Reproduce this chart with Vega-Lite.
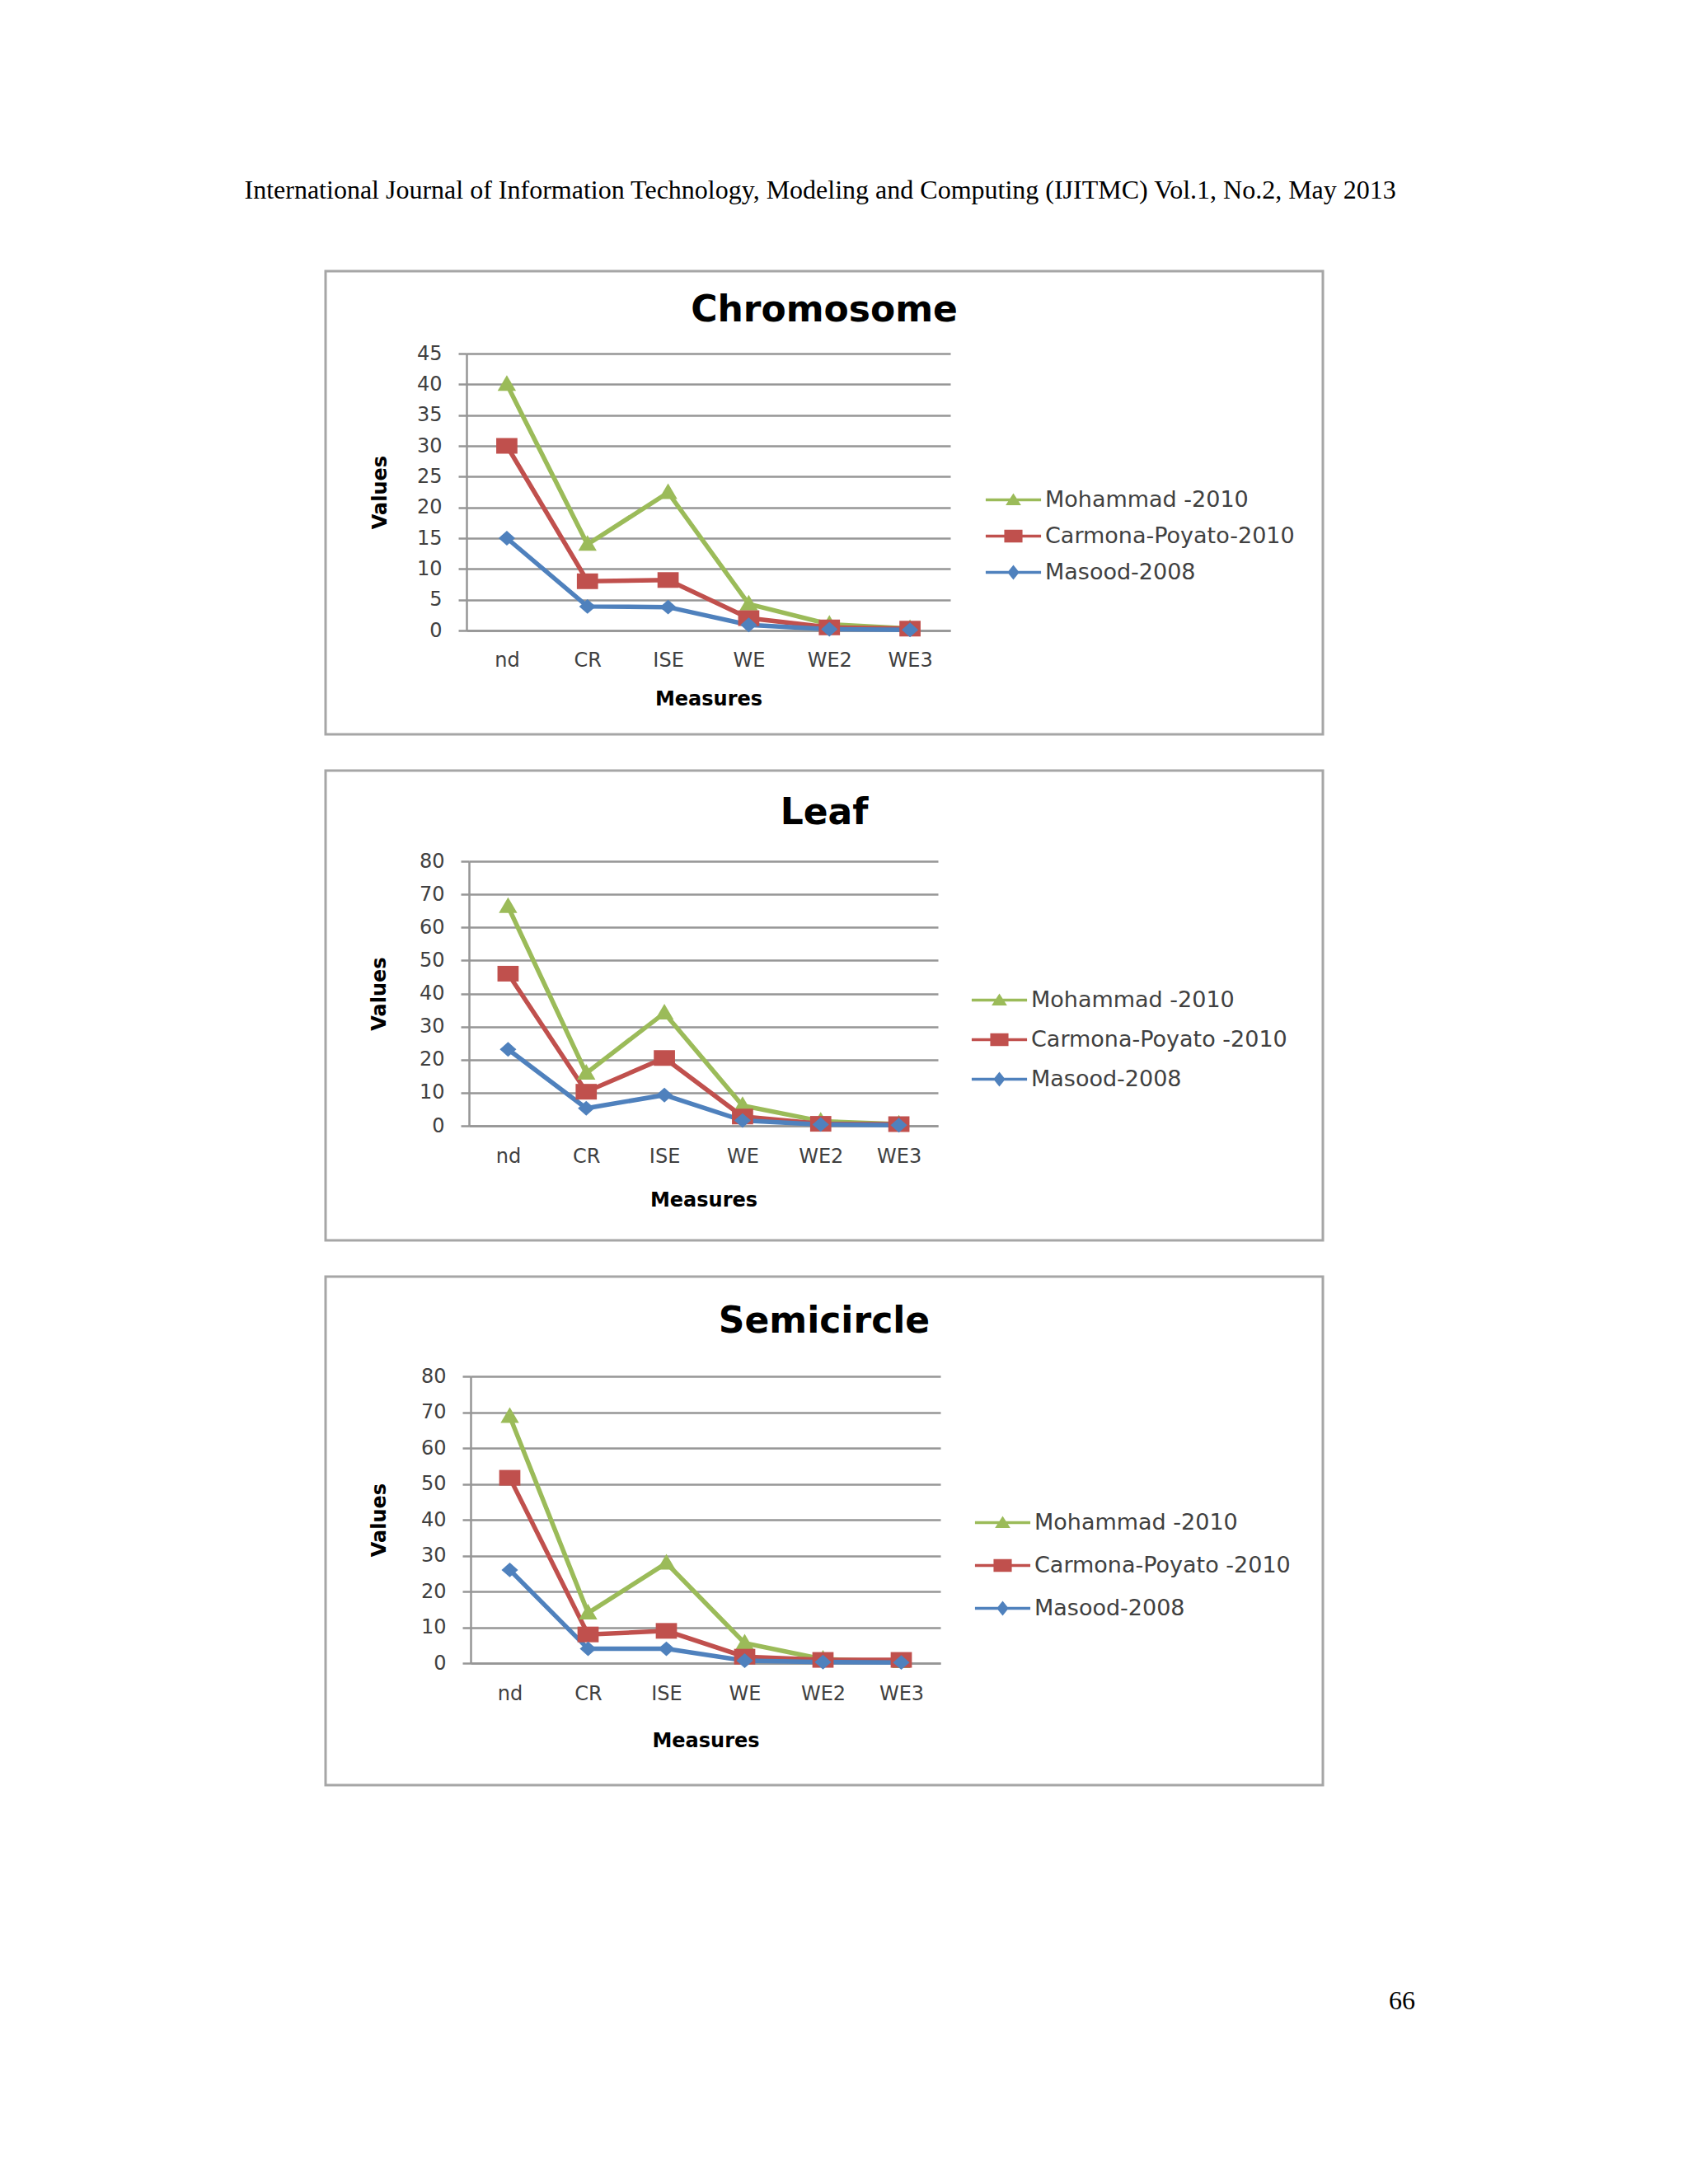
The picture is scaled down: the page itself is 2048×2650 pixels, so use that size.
{
  "$schema": "https://vega.github.io/schema/vega-lite/v6.json",
  "padding": {"left": 296, "top": 214, "right": 40, "bottom": 40},
  "background": "white",
  "title": {
    "text": "International Journal of Information Technology, Modeling and Computing (IJITMC) Vol.1, No.2, May 2013",
    "font": "Liberation Serif", "fontSize": 32, "fontWeight": "normal", "color": "#000000",
    "anchor": "start", "dx": -97, "offset": 80
  },
  "datasets": {
    "chromosome": [
      {"measure": "nd", "series": "Mohammad -2010", "value": 40},
      {"measure": "CR", "series": "Mohammad -2010", "value": 14},
      {"measure": "ISE", "series": "Mohammad -2010", "value": 22.4},
      {"measure": "WE", "series": "Mohammad -2010", "value": 4.3},
      {"measure": "WE2", "series": "Mohammad -2010", "value": 1.0},
      {"measure": "WE3", "series": "Mohammad -2010", "value": 0.3},
      {"measure": "nd", "series": "Carmona-Poyato-2010", "value": 30},
      {"measure": "CR", "series": "Carmona-Poyato-2010", "value": 8},
      {"measure": "ISE", "series": "Carmona-Poyato-2010", "value": 8.2},
      {"measure": "WE", "series": "Carmona-Poyato-2010", "value": 2.0},
      {"measure": "WE2", "series": "Carmona-Poyato-2010", "value": 0.5},
      {"measure": "WE3", "series": "Carmona-Poyato-2010", "value": 0.3},
      {"measure": "nd", "series": "Masood-2008", "value": 15},
      {"measure": "CR", "series": "Masood-2008", "value": 3.9},
      {"measure": "ISE", "series": "Masood-2008", "value": 3.8},
      {"measure": "WE", "series": "Masood-2008", "value": 0.9},
      {"measure": "WE2", "series": "Masood-2008", "value": 0.2},
      {"measure": "WE3", "series": "Masood-2008", "value": 0.1}
    ],
    "leaf": [
      {"measure": "nd", "series": "Mohammad -2010", "value": 66.3},
      {"measure": "CR", "series": "Mohammad -2010", "value": 15.9},
      {"measure": "ISE", "series": "Mohammad -2010", "value": 34.1},
      {"measure": "WE", "series": "Mohammad -2010", "value": 6.1},
      {"measure": "WE2", "series": "Mohammad -2010", "value": 1.4},
      {"measure": "WE3", "series": "Mohammad -2010", "value": 0.5},
      {"measure": "nd", "series": "Carmona-Poyato -2010", "value": 46},
      {"measure": "CR", "series": "Carmona-Poyato -2010", "value": 10.3},
      {"measure": "ISE", "series": "Carmona-Poyato -2010", "value": 20.5},
      {"measure": "WE", "series": "Carmona-Poyato -2010", "value": 2.8},
      {"measure": "WE2", "series": "Carmona-Poyato -2010", "value": 0.6},
      {"measure": "WE3", "series": "Carmona-Poyato -2010", "value": 0.5},
      {"measure": "nd", "series": "Masood-2008", "value": 23.1},
      {"measure": "CR", "series": "Masood-2008", "value": 5.3},
      {"measure": "ISE", "series": "Masood-2008", "value": 9.3},
      {"measure": "WE", "series": "Masood-2008", "value": 1.6},
      {"measure": "WE2", "series": "Masood-2008", "value": 0.4},
      {"measure": "WE3", "series": "Masood-2008", "value": 0.2}
    ],
    "semicircle": [
      {"measure": "nd", "series": "Mohammad -2010", "value": 68.8},
      {"measure": "CR", "series": "Mohammad -2010", "value": 14},
      {"measure": "ISE", "series": "Mohammad -2010", "value": 27.9},
      {"measure": "WE", "series": "Mohammad -2010", "value": 5.6},
      {"measure": "WE2", "series": "Mohammad -2010", "value": 1.1},
      {"measure": "WE3", "series": "Mohammad -2010", "value": 0.4},
      {"measure": "nd", "series": "Carmona-Poyato -2010", "value": 51.7},
      {"measure": "CR", "series": "Carmona-Poyato -2010", "value": 8},
      {"measure": "ISE", "series": "Carmona-Poyato -2010", "value": 9},
      {"measure": "WE", "series": "Carmona-Poyato -2010", "value": 1.8},
      {"measure": "WE2", "series": "Carmona-Poyato -2010", "value": 0.9},
      {"measure": "WE3", "series": "Carmona-Poyato -2010", "value": 0.9},
      {"measure": "nd", "series": "Masood-2008", "value": 26},
      {"measure": "CR", "series": "Masood-2008", "value": 4},
      {"measure": "ISE", "series": "Masood-2008", "value": 4},
      {"measure": "WE", "series": "Masood-2008", "value": 0.7},
      {"measure": "WE2", "series": "Masood-2008", "value": 0.3},
      {"measure": "WE3", "series": "Masood-2008", "value": 0.2}
    ]
  },
  "vconcat": [
    {
      "data": {"name": "chromosome"},
      "width": 1210,
      "height": 562,
      "view": {"stroke": "#a6a6a6", "strokeWidth": 3},
      "title": {"text": "Chromosome", "offset": -70},
      "encoding": {
        "x": {
          "field": "measure", "type": "nominal",
          "scale": {"domain": ["nd", "CR", "ISE", "WE", "WE2", "WE3"], "range": [171, 758], "padding": 0.5},
          "axis": {"title": "Measures", "offset": -126, "labelPadding": 24, "titlePadding": 23}
        },
        "y": {
          "field": "value", "type": "quantitative",
          "scale": {"domain": [0, 45], "range": [436, 100], "nice": false},
          "axis": {"title": "Values", "values": [0, 5, 10, 15, 20, 25, 30, 35, 40, 45], "offset": -171, "titlePadding": 32}
        }
      },
      "layer": [
        {
          "transform": [{"filter": "datum.value < 0"}],
          "mark": {"type": "point", "filled": true, "opacity": 1},
          "encoding": {
            "color": {
              "field": "series", "type": "nominal",
              "scale": {"domain": ["Mohammad -2010", "Carmona-Poyato-2010", "Masood-2008"], "range": ["#9bbb59", "#c0504d", "#4f81bd"]},
              "legend": {"orient": "none", "legendX": 821, "legendY": 264, "title": null, "rowPadding": 16, "labelOffset": 25}
            },
            "shape": {
              "field": "series", "type": "nominal",
              "scale": {
                "domain": ["Mohammad -2010", "Carmona-Poyato-2010", "Masood-2008"],
                "range": [
                  "M-3.95,-0.22H3.95V0.22H-3.95Z M0,-0.95L1.1,0.75L-1.1,0.75Z",
                  "M-3.95,-0.22H3.95V0.22H-3.95Z M-1.3,-0.9H1.3V0.9H-1.3Z",
                  "M-3.95,-0.22H3.95V0.22H-3.95Z M0,-1.05L0.85,0L0,1.05L-0.85,0Z"
                ]
              },
              "legend": {"orient": "none", "legendX": 821, "legendY": 264, "title": null, "rowPadding": 16, "labelOffset": 25}
            }
          }
        },
        {
          "mark": {"type": "line", "strokeWidth": 5.5},
          "encoding": {
            "color": {
              "field": "series", "type": "nominal",
              "scale": {"domain": ["Mohammad -2010", "Carmona-Poyato-2010", "Masood-2008"], "range": ["#9bbb59", "#c0504d", "#4f81bd"]},
              "legend": null
            }
          }
        },
        {
          "mark": {"type": "point", "filled": true, "opacity": 1, "size": 500, "strokeWidth": 0},
          "encoding": {
            "color": {
              "field": "series", "type": "nominal",
              "scale": {"domain": ["Mohammad -2010", "Carmona-Poyato-2010", "Masood-2008"], "range": ["#9bbb59", "#c0504d", "#4f81bd"]},
              "legend": null
            },
            "shape": {
              "field": "series", "type": "nominal",
              "scale": {
                "domain": ["Mohammad -2010", "Carmona-Poyato-2010", "Masood-2008"],
                "range": ["M0,-1L1,0.7L-1,0.7Z", "M-1.15,-0.85H1.15V0.85H-1.15Z", "M0,-0.8L0.9,0L0,0.8L-0.9,0Z"]
              },
              "legend": null
            }
          }
        }
      ],
      "resolve": {"scale": {"color": "independent", "shape": "independent"}}
    },
    {
      "data": {"name": "leaf"},
      "width": 1210,
      "height": 570,
      "view": {"stroke": "#a6a6a6", "strokeWidth": 3},
      "title": {"text": "Leaf", "offset": -74},
      "encoding": {
        "x": {
          "field": "measure", "type": "nominal",
          "scale": {"domain": ["nd", "CR", "ISE", "WE", "WE2", "WE3"], "range": [174, 743], "padding": 0.5},
          "axis": {"title": "Measures", "offset": -139, "labelPadding": 25, "titlePadding": 29}
        },
        "y": {
          "field": "value", "type": "quantitative",
          "scale": {"domain": [0, 80], "range": [431, 110], "nice": false},
          "axis": {"title": "Values", "values": [0, 10, 20, 30, 40, 50, 60, 70, 80], "offset": -174, "titlePadding": 36}
        }
      },
      "layer": [
        {
          "transform": [{"filter": "datum.value < 0"}],
          "mark": {"type": "point", "filled": true, "opacity": 1},
          "encoding": {
            "color": {
              "field": "series", "type": "nominal",
              "scale": {"domain": ["Mohammad -2010", "Carmona-Poyato -2010", "Masood-2008"], "range": ["#9bbb59", "#c0504d", "#4f81bd"]},
              "legend": {"orient": "none", "legendX": 804, "legendY": 265, "title": null, "rowPadding": 20, "labelOffset": 25}
            },
            "shape": {
              "field": "series", "type": "nominal",
              "scale": {
                "domain": ["Mohammad -2010", "Carmona-Poyato -2010", "Masood-2008"],
                "range": [
                  "M-3.95,-0.22H3.95V0.22H-3.95Z M0,-0.95L1.1,0.75L-1.1,0.75Z",
                  "M-3.95,-0.22H3.95V0.22H-3.95Z M-1.3,-0.9H1.3V0.9H-1.3Z",
                  "M-3.95,-0.22H3.95V0.22H-3.95Z M0,-1.05L0.85,0L0,1.05L-0.85,0Z"
                ]
              },
              "legend": {"orient": "none", "legendX": 804, "legendY": 265, "title": null, "rowPadding": 20, "labelOffset": 25}
            }
          }
        },
        {
          "mark": {"type": "line", "strokeWidth": 5.5},
          "encoding": {
            "color": {
              "field": "series", "type": "nominal",
              "scale": {"domain": ["Mohammad -2010", "Carmona-Poyato -2010", "Masood-2008"], "range": ["#9bbb59", "#c0504d", "#4f81bd"]},
              "legend": null
            }
          }
        },
        {
          "mark": {"type": "point", "filled": true, "opacity": 1, "size": 500, "strokeWidth": 0},
          "encoding": {
            "color": {
              "field": "series", "type": "nominal",
              "scale": {"domain": ["Mohammad -2010", "Carmona-Poyato -2010", "Masood-2008"], "range": ["#9bbb59", "#c0504d", "#4f81bd"]},
              "legend": null
            },
            "shape": {
              "field": "series", "type": "nominal",
              "scale": {
                "domain": ["Mohammad -2010", "Carmona-Poyato -2010", "Masood-2008"],
                "range": ["M0,-1L1,0.7L-1,0.7Z", "M-1.15,-0.85H1.15V0.85H-1.15Z", "M0,-0.8L0.9,0L0,0.8L-0.9,0Z"]
              },
              "legend": null
            }
          }
        }
      ],
      "resolve": {"scale": {"color": "independent", "shape": "independent"}}
    },
    {
      "data": {"name": "semicircle"},
      "width": 1210,
      "height": 617,
      "view": {"stroke": "#a6a6a6", "strokeWidth": 3},
      "title": {"text": "Semicircle", "offset": -77},
      "encoding": {
        "x": {
          "field": "measure", "type": "nominal",
          "scale": {"domain": ["nd", "CR", "ISE", "WE", "WE2", "WE3"], "range": [176, 746], "padding": 0.5},
          "axis": {"title": "Measures", "offset": -148, "labelPadding": 25, "titlePadding": 33}
        },
        "y": {
          "field": "value", "type": "quantitative",
          "scale": {"domain": [0, 80], "range": [469, 121], "nice": false},
          "axis": {"title": "Values", "values": [0, 10, 20, 30, 40, 50, 60, 70, 80], "offset": -176, "titlePadding": 38}
        }
      },
      "layer": [
        {
          "transform": [{"filter": "datum.value < 0"}],
          "mark": {"type": "point", "filled": true, "opacity": 1},
          "encoding": {
            "color": {
              "field": "series", "type": "nominal",
              "scale": {"domain": ["Mohammad -2010", "Carmona-Poyato -2010", "Masood-2008"], "range": ["#9bbb59", "#c0504d", "#4f81bd"]},
              "legend": {"orient": "none", "legendX": 808, "legendY": 285, "title": null, "rowPadding": 24, "labelOffset": 25}
            },
            "shape": {
              "field": "series", "type": "nominal",
              "scale": {
                "domain": ["Mohammad -2010", "Carmona-Poyato -2010", "Masood-2008"],
                "range": [
                  "M-3.95,-0.22H3.95V0.22H-3.95Z M0,-0.95L1.1,0.75L-1.1,0.75Z",
                  "M-3.95,-0.22H3.95V0.22H-3.95Z M-1.3,-0.9H1.3V0.9H-1.3Z",
                  "M-3.95,-0.22H3.95V0.22H-3.95Z M0,-1.05L0.85,0L0,1.05L-0.85,0Z"
                ]
              },
              "legend": {"orient": "none", "legendX": 808, "legendY": 285, "title": null, "rowPadding": 24, "labelOffset": 25}
            }
          }
        },
        {
          "mark": {"type": "line", "strokeWidth": 5.5},
          "encoding": {
            "color": {
              "field": "series", "type": "nominal",
              "scale": {"domain": ["Mohammad -2010", "Carmona-Poyato -2010", "Masood-2008"], "range": ["#9bbb59", "#c0504d", "#4f81bd"]},
              "legend": null
            }
          }
        },
        {
          "mark": {"type": "point", "filled": true, "opacity": 1, "size": 500, "strokeWidth": 0},
          "encoding": {
            "color": {
              "field": "series", "type": "nominal",
              "scale": {"domain": ["Mohammad -2010", "Carmona-Poyato -2010", "Masood-2008"], "range": ["#9bbb59", "#c0504d", "#4f81bd"]},
              "legend": null
            },
            "shape": {
              "field": "series", "type": "nominal",
              "scale": {
                "domain": ["Mohammad -2010", "Carmona-Poyato -2010", "Masood-2008"],
                "range": ["M0,-1L1,0.7L-1,0.7Z", "M-1.15,-0.85H1.15V0.85H-1.15Z", "M0,-0.8L0.9,0L0,0.8L-0.9,0Z"]
              },
              "legend": null
            }
          }
        }
      ],
      "resolve": {"scale": {"color": "independent", "shape": "independent"}}
    },
    {
      "data": {"values": [{"page": "66"}]},
      "width": 1210,
      "height": 440,
      "view": {"stroke": null},
      "mark": {"type": "text", "font": "Liberation Serif", "fontSize": 32, "color": "#000000", "align": "center", "baseline": "middle"},
      "encoding": {
        "text": {"field": "page"},
        "x": {"field": "page", "type": "nominal", "axis": null, "scale": {"range": [1306, 1306]}}
      }
    }
  ],
  "spacing": 40,
  "config": {
    "view": {"stroke": null},
    "font": "DejaVu Sans",
    "title": {"font": "DejaVu Sans", "fontSize": 44, "fontWeight": "bold", "color": "#000000", "anchor": "middle"},
    "axis": {
      "labelFont": "DejaVu Sans", "labelFontSize": 24, "labelColor": "#404040",
      "titleFont": "DejaVu Sans", "titleFontSize": 24, "titleFontWeight": "bold", "titleColor": "#000000",
      "domainColor": "#969696", "domainWidth": 2.5,
      "gridColor": "#969696", "gridWidth": 2.5, "gridOpacity": 1,
      "tickColor": "#969696", "tickWidth": 2.5
    },
    "axisX": {"grid": false, "ticks": false, "labelAngle": 0},
    "axisY": {"grid": true, "tickSize": 10, "labelPadding": 20},
    "legend": {
      "labelFont": "DejaVu Sans", "labelFontSize": 27, "labelColor": "#404040",
      "symbolStrokeWidth": 0, "symbolSize": 289, "labelLimit": 500, "padding": 0
    }
  }
}
